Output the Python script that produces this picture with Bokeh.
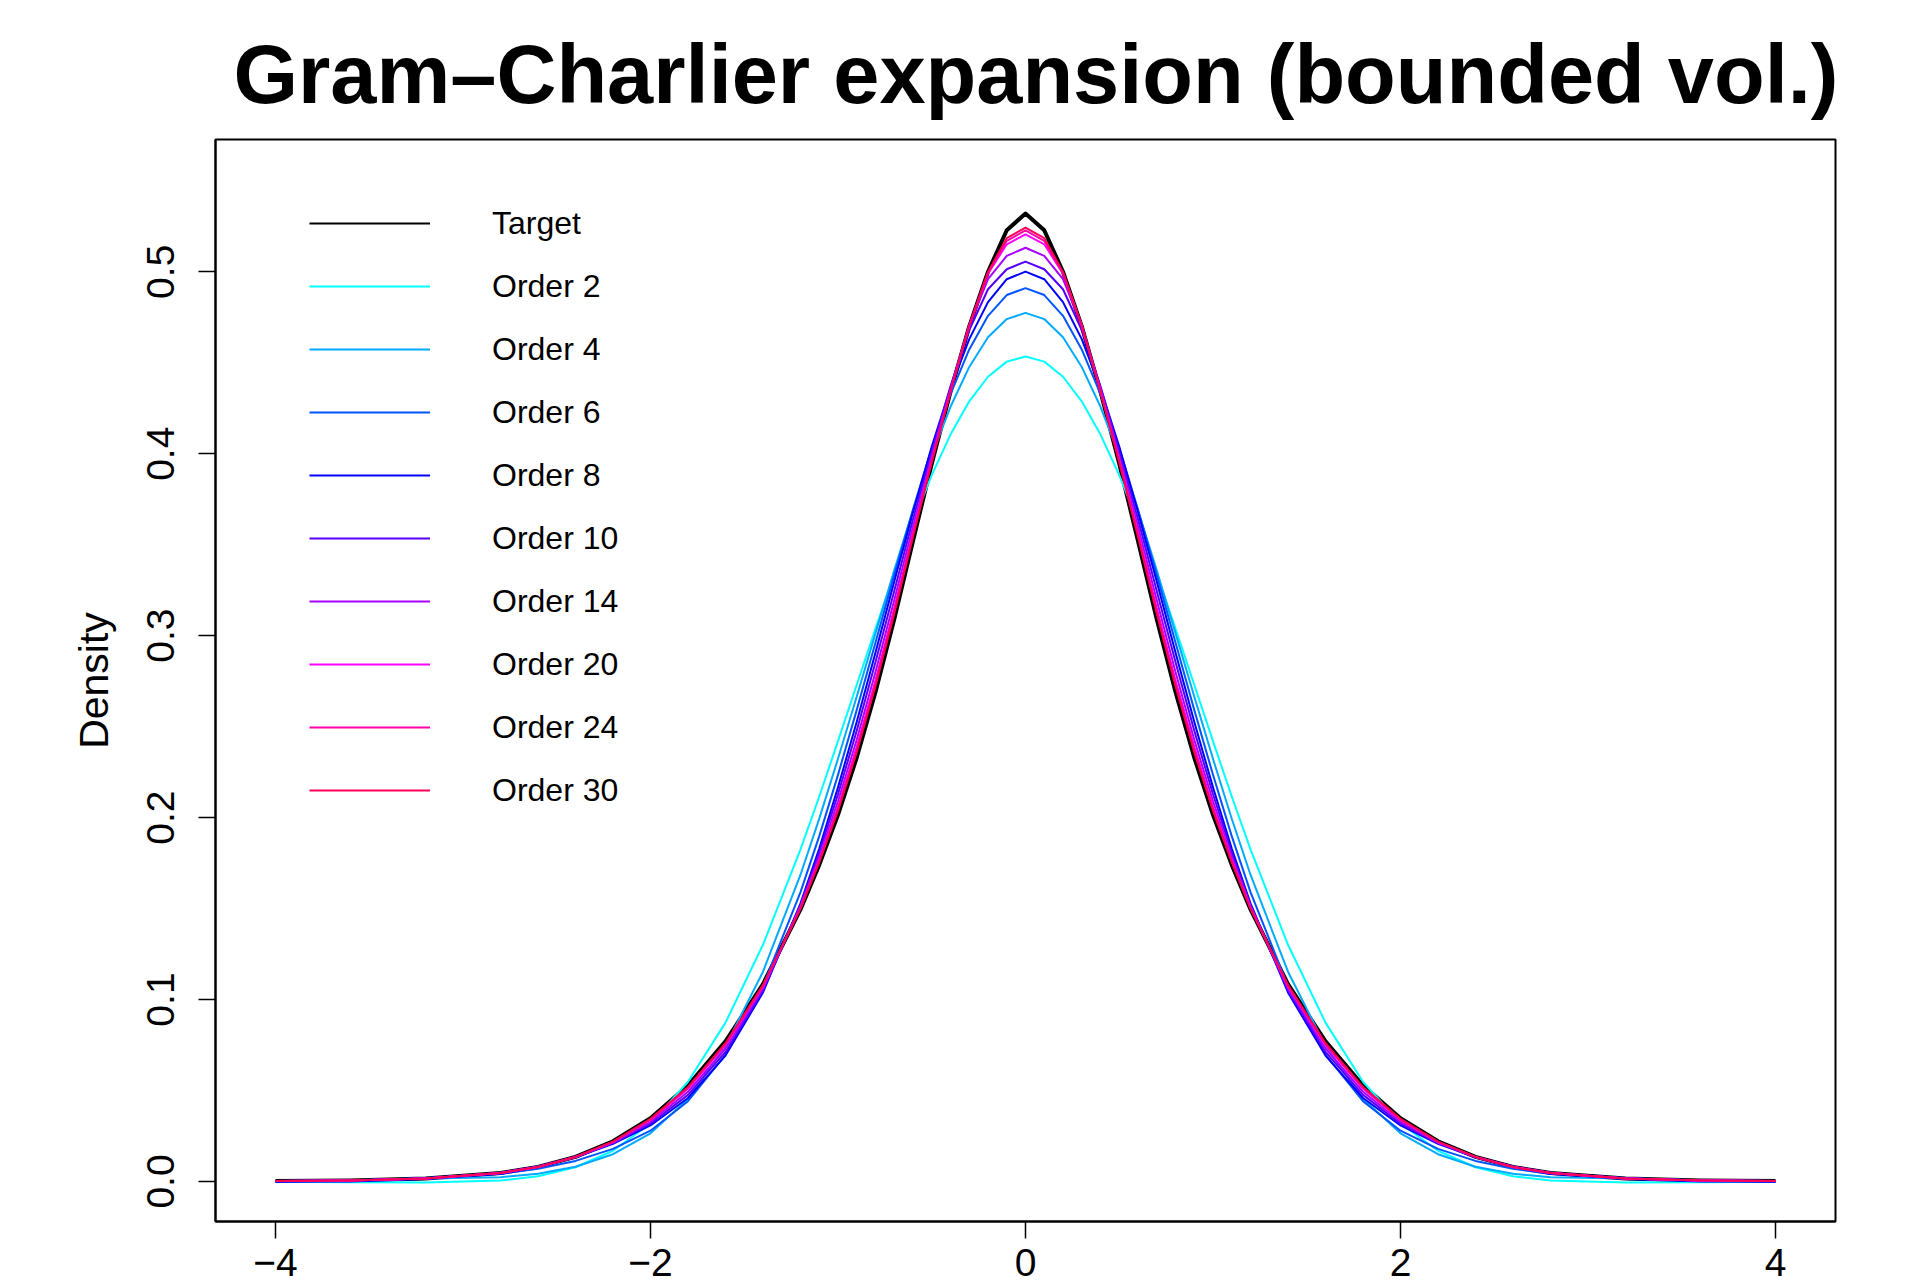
from bokeh.plotting import figure
from bokeh.models import Range1d, FixedTicker, Legend, LegendItem
from bokeh.embed import file_html
from bokeh.resources import INLINE

TITLE = "Gram\u2013Charlier expansion (bounded vol.)"
Y_LABEL = "Density"
XTICKS = [-4, -2, 0, 2, 4]
XTICK_LABELS = ["\u22124", "\u22122", "0", "2", "4"]
YTICKS = [0.0, 0.1, 0.2, 0.3, 0.4, 0.5]
YTICK_LABELS = ["0.0", "0.1", "0.2", "0.3", "0.4", "0.5"]

X = [-4.0, -3.6, -3.2, -2.8, -2.6, -2.4, -2.2, -2.0, -1.8, -1.6, -1.4, -1.2, -1.1, -1.0, -0.9, -0.8,
     -0.7, -0.6, -0.5, -0.4, -0.3, -0.2, -0.1, 0.0, 0.1, 0.2, 0.3, 0.4, 0.5, 0.6, 0.7, 0.8, 0.9, 1.0,
     1.1, 1.2, 1.4, 1.6, 1.8, 2.0, 2.2, 2.4, 2.6, 2.8, 3.2, 3.6, 4.0]

TARGET = [0.0002, 0.0006, 0.0016, 0.0047, 0.0080, 0.0135, 0.0221, 0.0348, 0.0527, 0.0770, 0.1085, 0.1495,
          0.1740, 0.2015, 0.2330, 0.2690, 0.3090, 0.3520, 0.3945, 0.4340, 0.4700, 0.5000, 0.5228, 0.5320,
          0.5228, 0.5000, 0.4700, 0.4340, 0.3945, 0.3520, 0.3090, 0.2690, 0.2330, 0.2015, 0.1740, 0.1495,
          0.1085, 0.0770, 0.0527, 0.0348, 0.0221, 0.0135, 0.0080, 0.0047, 0.0016, 0.0006, 0.0002]

ORDER2 = [-0.0001, -0.0004, -0.0006, 0.0005, 0.0029, 0.0078, 0.0169, 0.0319, 0.0548, 0.0873, 0.1301, 0.1825,
          0.2116, 0.2420, 0.2730, 0.3039, 0.3340, 0.3623, 0.3882, 0.4105, 0.4288, 0.4423, 0.4506, 0.4534,
          0.4506, 0.4423, 0.4288, 0.4105, 0.3882, 0.3623, 0.3340, 0.3039, 0.2730, 0.2420, 0.2116, 0.1825,
          0.1301, 0.0873, 0.0548, 0.0319, 0.0169, 0.0078, 0.0029, 0.0005, -0.0006, -0.0004, -0.0001]

ORDER4 = [0.0003, 0.0007, 0.0016, 0.0023, 0.0043, 0.0081, 0.0150, 0.0265, 0.0454, 0.0744, 0.1153, 0.1686,
          0.1994, 0.2323, 0.2666, 0.3014, 0.3359, 0.3688, 0.3992, 0.4258, 0.4477, 0.4640, 0.4740, 0.4774,
          0.4740, 0.4640, 0.4477, 0.4258, 0.3992, 0.3688, 0.3359, 0.3014, 0.2666, 0.2323, 0.1994, 0.1686,
          0.1153, 0.0744, 0.0454, 0.0265, 0.0150, 0.0081, 0.0043, 0.0023, 0.0016, 0.0007, 0.0003]

ORDER6 = [0.0000, 0.0004, 0.0019, 0.0042, 0.0070, 0.0113, 0.0179, 0.0279, 0.0441, 0.0697, 0.1074, 0.1590,
          0.1898, 0.2235, 0.2592, 0.2962, 0.3334, 0.3693, 0.4030, 0.4327, 0.4573, 0.4758, 0.4872, 0.4910,
          0.4872, 0.4758, 0.4573, 0.4327, 0.4030, 0.3693, 0.3334, 0.2962, 0.2592, 0.2235, 0.1898, 0.1590,
          0.1074, 0.0697, 0.0441, 0.0279, 0.0179, 0.0113, 0.0070, 0.0042, 0.0019, 0.0004, 0.0000]

ORDER8 = [-0.0001, 0.0000, 0.0013, 0.0042, 0.0079, 0.0133, 0.0207, 0.0308, 0.0459, 0.0692, 0.1039, 0.1529,
          0.1830, 0.2166, 0.2527, 0.2908, 0.3298, 0.3678, 0.4040, 0.4361, 0.4630, 0.4833, 0.4959, 0.5001,
          0.4959, 0.4833, 0.4630, 0.4361, 0.4040, 0.3678, 0.3298, 0.2908, 0.2527, 0.2166, 0.1830, 0.1529,
          0.1039, 0.0692, 0.0459, 0.0308, 0.0207, 0.0133, 0.0079, 0.0042, 0.0013, 0.0000, -0.0001]

ORDER10 = [0.0001, 0.0005, 0.0016, 0.0048, 0.0082, 0.0135, 0.0211, 0.0318, 0.0476, 0.0712, 0.1050, 0.1520,
           0.1808, 0.2128, 0.2478, 0.2855, 0.3245, 0.3640, 0.4010, 0.4370, 0.4680, 0.4904, 0.5014, 0.5056,
           0.5014, 0.4904, 0.4680, 0.4370, 0.4010, 0.3640, 0.3245, 0.2855, 0.2478, 0.2128, 0.1808, 0.1520,
           0.1050, 0.0712, 0.0476, 0.0318, 0.0211, 0.0135, 0.0082, 0.0048, 0.0016, 0.0005, 0.0001]

ORDER14 = [0.0002, 0.0006, 0.0016, 0.0047, 0.0080, 0.0134, 0.0214, 0.0328, 0.0493, 0.0731, 0.1062, 0.1512,
           0.1785, 0.2090, 0.2428, 0.2800, 0.3195, 0.3600, 0.3985, 0.4355, 0.4705, 0.4959, 0.5087, 0.5132,
           0.5087, 0.4959, 0.4705, 0.4355, 0.3985, 0.3600, 0.3195, 0.2800, 0.2428, 0.2090, 0.1785, 0.1512,
           0.1062, 0.0731, 0.0493, 0.0328, 0.0214, 0.0134, 0.0080, 0.0047, 0.0016, 0.0006, 0.0002]

ORDER20 = [0.0002, 0.0006, 0.0016, 0.0047, 0.0080, 0.0134, 0.0217, 0.0338, 0.0510, 0.0750, 0.1072, 0.1505,
           0.1767, 0.2060, 0.2390, 0.2755, 0.3152, 0.3567, 0.3965, 0.4345, 0.4705, 0.4990, 0.5151, 0.5205,
           0.5151, 0.4990, 0.4705, 0.4345, 0.3965, 0.3567, 0.3152, 0.2755, 0.2390, 0.2060, 0.1767, 0.1505,
           0.1072, 0.0750, 0.0510, 0.0338, 0.0217, 0.0134, 0.0080, 0.0047, 0.0016, 0.0006, 0.0002]

ORDER24 = [0.0002, 0.0006, 0.0016, 0.0047, 0.0080, 0.0135, 0.0218, 0.0341, 0.0515, 0.0755, 0.1076, 0.1502,
           0.1760, 0.2048, 0.2373, 0.2738, 0.3137, 0.3555, 0.3958, 0.4343, 0.4703, 0.4995, 0.5170, 0.5227,
           0.5170, 0.4995, 0.4703, 0.4343, 0.3958, 0.3555, 0.3137, 0.2738, 0.2373, 0.2048, 0.1760, 0.1502,
           0.1076, 0.0755, 0.0515, 0.0341, 0.0218, 0.0135, 0.0080, 0.0047, 0.0016, 0.0006, 0.0002]

ORDER30 = [0.0002, 0.0006, 0.0016, 0.0047, 0.0080, 0.0135, 0.0219, 0.0344, 0.0519, 0.0760, 0.1079, 0.1500,
           0.1755, 0.2038, 0.2360, 0.2723, 0.3121, 0.3544, 0.3953, 0.4342, 0.4702, 0.4998, 0.5185, 0.5243,
           0.5185, 0.4998, 0.4702, 0.4342, 0.3953, 0.3544, 0.3121, 0.2723, 0.2360, 0.2038, 0.1755, 0.1500,
           0.1079, 0.0760, 0.0519, 0.0344, 0.0219, 0.0135, 0.0080, 0.0047, 0.0016, 0.0006, 0.0002]

SERIES_LABELS = ["Order 2", "Order 4", "Order 6", "Order 8", "Order 10",
                 "Order 14", "Order 20", "Order 24", "Order 30"]
SERIES_VALUES = [ORDER2, ORDER4, ORDER6, ORDER8, ORDER10, ORDER14, ORDER20, ORDER24, ORDER30]
SERIES_COLORS = ["#00FFFF", "#00AAFF", "#0055FF", "#0000FF", "#5500FF",
                 "#AA00FF", "#FF00FF", "#FF00AA", "#FF0055"]

FONT = "Liberation Sans"

p = figure(frame_width=1620, frame_height=1082,
           x_range=Range1d(-4.32, 4.32), y_range=Range1d(-0.022, 0.5727),
           output_backend="svg", toolbar_location=None,
           min_border_left=215, min_border_right=70, min_border_top=139, min_border_bottom=63)

p.title.text = TITLE
p.title.text_font = FONT
p.title.text_font_size = "83px"
p.title.text_font_style = "bold"
p.title.text_color = "black"
p.title.align = "left"
p.title.offset = 18
p.title.standoff = 38

p.xgrid.visible = False
p.ygrid.visible = False
p.outline_line_color = "black"
p.outline_line_width = 2
p.background_fill_color = "white"
p.border_fill_color = "white"

for ax in (p.xaxis[0], p.yaxis[0]):
    ax.axis_line_color = "black"
    ax.axis_line_width = 2
    ax.major_tick_line_width = 1.5
    ax.major_tick_line_color = "black"
    ax.major_tick_out = 17
    ax.major_tick_in = 0
    ax.minor_tick_line_color = None
    ax.major_label_text_font = FONT
    ax.major_label_text_font_size = "39px"
    ax.major_label_text_color = "black"
    ax.axis_label_text_font = FONT
    ax.axis_label_text_font_size = "41px"
    ax.axis_label_text_font_style = "normal"
    ax.axis_label_text_color = "black"

p.xaxis.ticker = FixedTicker(ticks=XTICKS)
p.xaxis.major_label_overrides = dict(zip(XTICKS, XTICK_LABELS))
p.xaxis.major_label_standoff = 10
p.yaxis.ticker = FixedTicker(ticks=YTICKS)
p.yaxis.major_label_overrides = dict(zip(YTICKS, YTICK_LABELS))
p.yaxis.major_label_orientation = "vertical"
p.yaxis.major_label_standoff = 24
p.yaxis.axis_label = Y_LABEL
p.yaxis.axis_label_standoff = 28

p.line(X, TARGET, line_color="black", line_width=4, line_join="round")
thin_target = p.line(X, TARGET, line_color="black", line_width=2, line_join="round")

items = [LegendItem(label="Target", renderers=[thin_target])]
for vals, col, lab in zip(SERIES_VALUES, SERIES_COLORS, SERIES_LABELS):
    r = p.line(X, vals, line_color=col, line_width=2, line_join="round")
    items.append(LegendItem(label=lab, renderers=[r]))

legend = Legend(items=items, location=(94, 411),
                glyph_width=121, glyph_height=40, label_height=40, label_standoff=62,
                spacing=23, padding=0, margin=0,
                border_line_color=None, background_fill_alpha=0,
                label_text_font=FONT, label_text_font_size="32px", label_text_color="black")
p.add_layout(legend)

open("out.html", "w").write(file_html(p, INLINE))
